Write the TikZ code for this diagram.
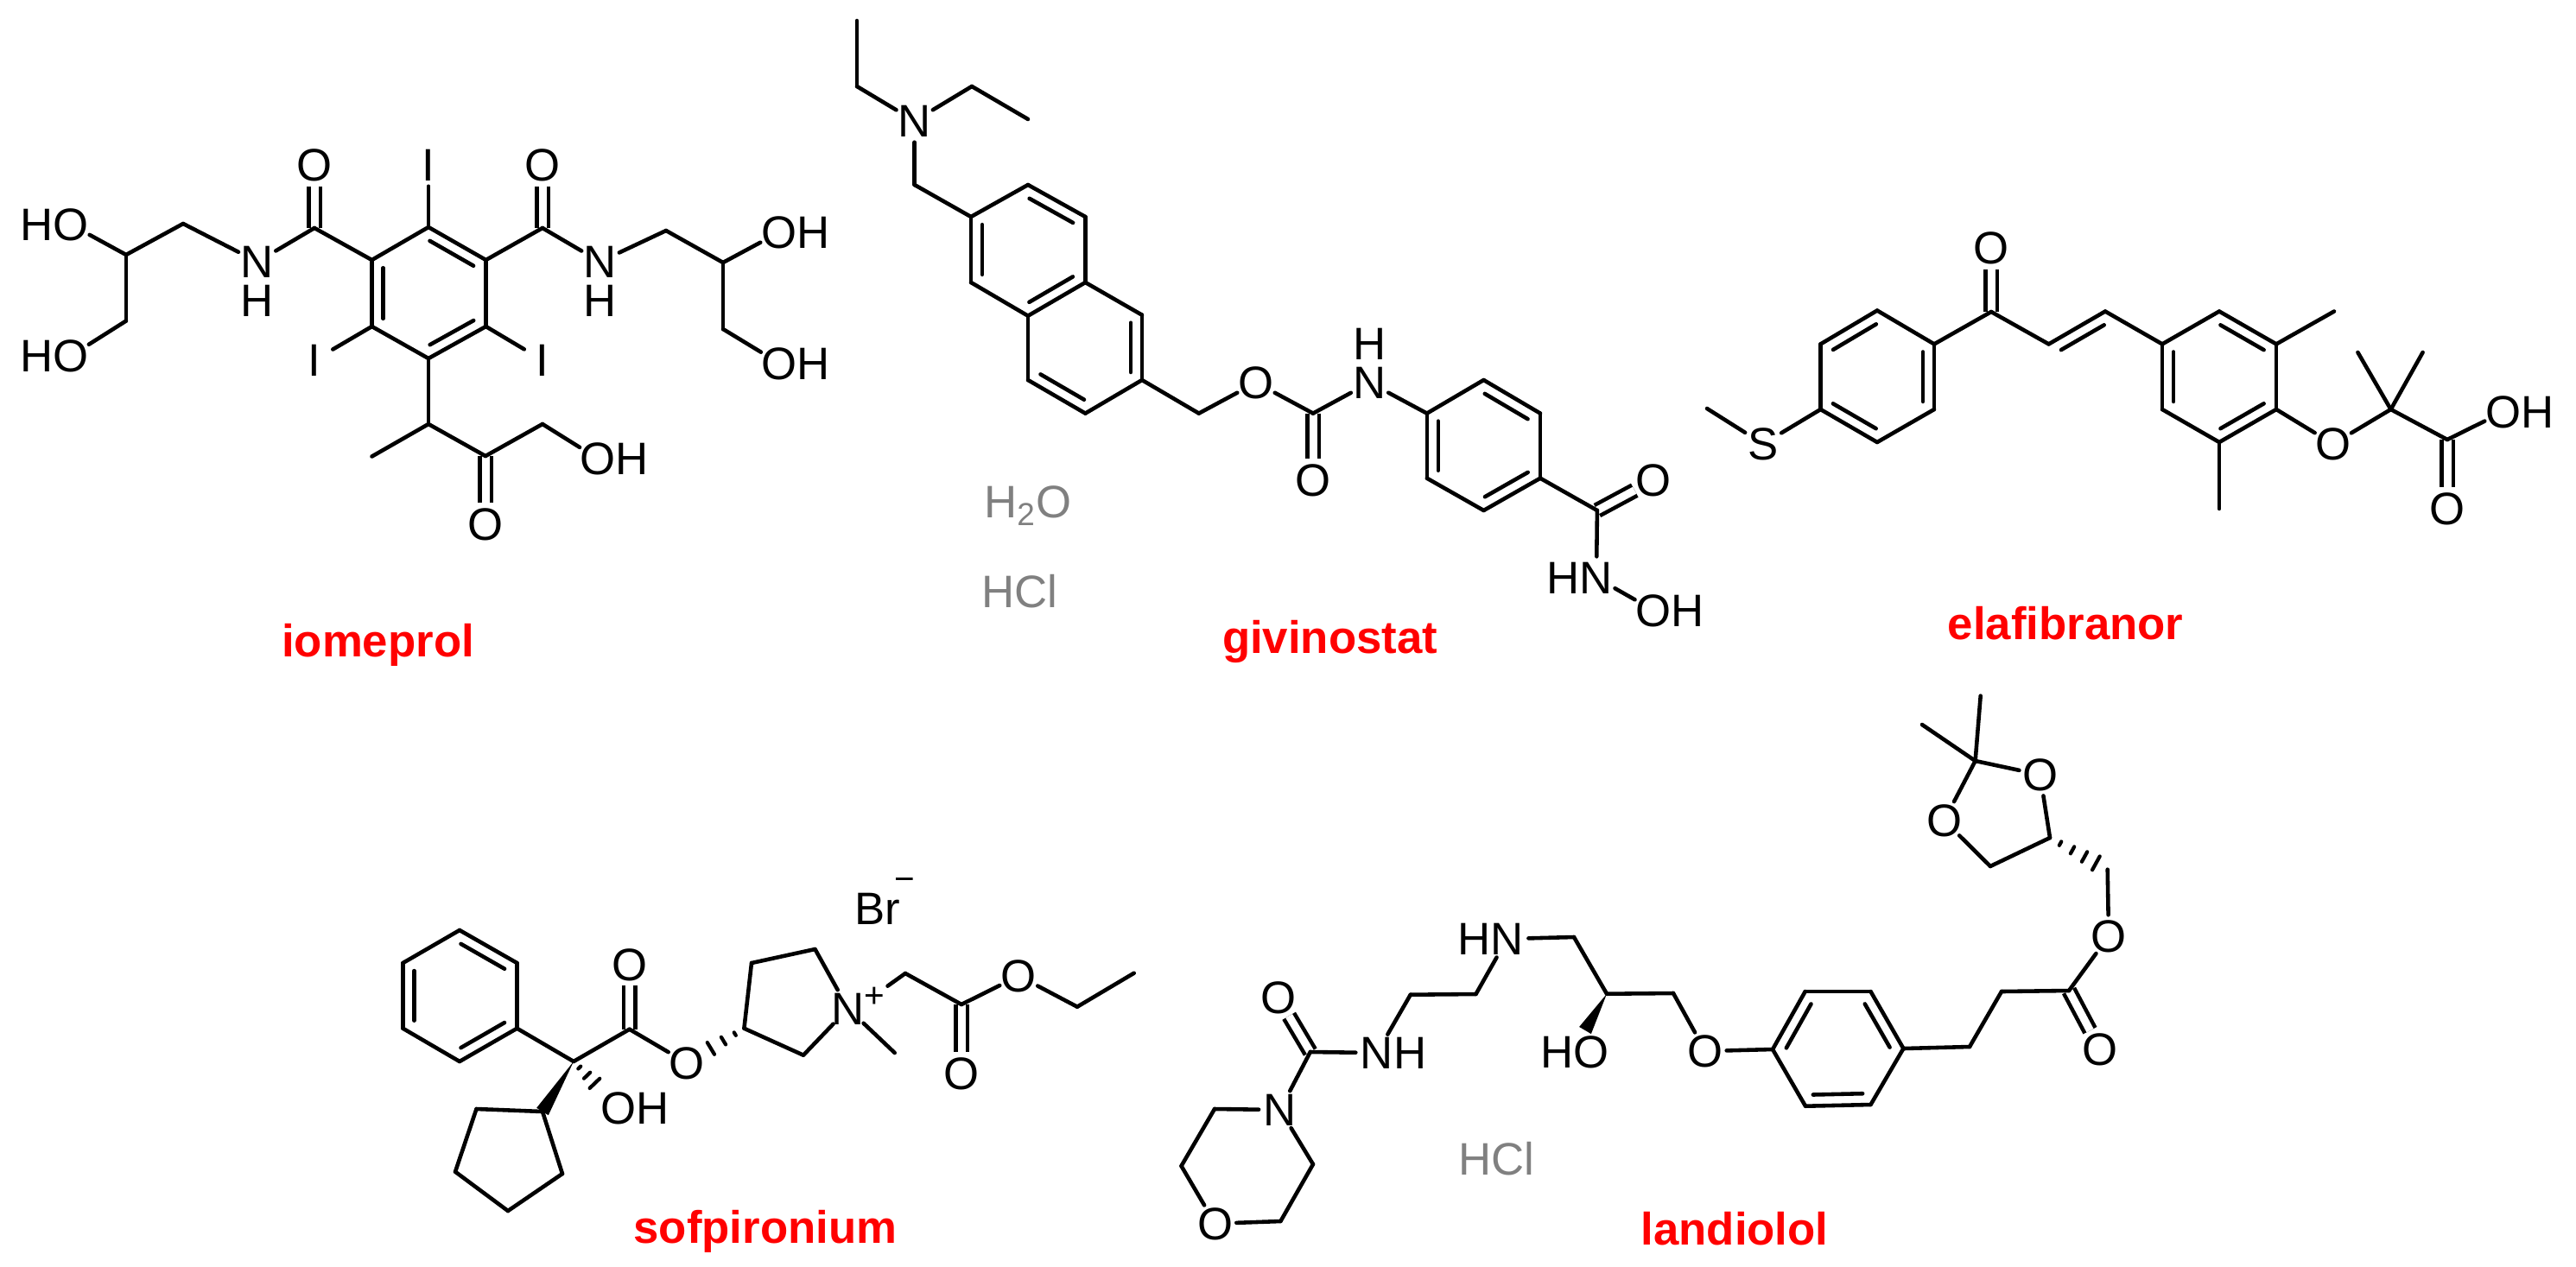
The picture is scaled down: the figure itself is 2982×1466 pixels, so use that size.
\documentclass[tikz,border=0pt]{standalone}
\usepackage{fontspec}
\setmainfont{Liberation Sans}
\usetikzlibrary{calc}
\newcommand{\hashbond}[3]{\foreach \t/\w in {#3}
  {\draw[line width=1.2pt,line cap=round] ($(#1)!\t!(#2)!\w!90:(#2)$) -- ($(#1)!\t!(#2)!\w!-90:(#2)$);}}

\begin{document}
\begin{tikzpicture}[x=0.01cm,y=-0.01cm,
    every edge/.style={draw,line width=1.3pt,line cap=round},
    atom/.style={circle,inner sep=-1pt,minimum size=4.8mm,text height=10.7pt,text depth=0pt,font=\fontsize{15}{18}\selectfont},
    charge/.style={circle,inner sep=0pt,minimum size=2mm,text height=8pt,text depth=0pt,font=\fontsize{11.5}{14}\selectfont},
    salt/.style={anchor=center,text=gray,text height=10.7pt,text depth=0pt,inner sep=0pt,font=\fontsize{15}{18}\selectfont},
    drug/.style={anchor=base,text=red,inner sep=0pt,font=\fontsize{15}{18}\selectfont\bfseries},
    dbl/.style={double,double distance=0.9mm,line cap=butt},
    inring/.style={to path={($(\tikztostart)!.12!(\tikztotarget)!.13cm!90:(\tikztotarget)$) -- ($(\tikztotarget)!.12!(\tikztostart)!.13cm!-90:(\tikztostart)$)}}]
  \useasboundingbox (0,0) rectangle (2982,1466);

  % iomeprol
  \coordinate (i1) at (496,263);
  \coordinate (i2) at (430.5,301);
  \coordinate (i3) at (430.5,378);
  \coordinate (i4) at (496,415);
  \coordinate (i5) at (562.5,378);
  \coordinate (i6) at (562.5,301);
  \coordinate (ic1) at (364,264);
  \coordinate (ic2) at (628,264);
  \coordinate (ic3) at (212,259);
  \coordinate (ic4) at (146,295);
  \coordinate (ic5) at (146,371.5);
  \coordinate (ic6) at (771,267);
  \coordinate (ic7) at (837,304);
  \coordinate (ic8) at (837,381);
  \coordinate (ic9) at (496,491);
  \coordinate (ic10) at (430.5,528.5);
  \coordinate (ic11) at (562,528);
  \coordinate (ic12) at (628,491);
  \node[atom] (io1) at (364,191) {O};
  \node[atom] (io2) at (628,191) {O};
  \node[atom] (io3) at (562,606.5) {O};
  \node[atom] (ii1) at (496,191) {I};
  \node[atom] (ii2) at (364,417) {I};
  \node[atom] (ii3) at (628,417) {I};
  \node[atom] (in1) at (298,303) {N};
  \node[atom] (ih1) at (298,348) {H};
  \node[atom] (in2) at (694.5,303) {N};
  \node[atom] (ih2) at (694.5,348) {H};
  \node[atom] (ioh1) at (82,260) {\llap{H}O};
  \node[atom] (ioh2) at (82,412) {\llap{H}O};
  \node[atom] (ioh3) at (902,269) {O\rlap{H}};
  \node[atom] (ioh4) at (902,420.5) {O\rlap{H}};
  \node[atom] (ioh5) at (692,531) {O\rlap{H}};
  \path
  (ic1) edge[dbl] (io1)
  (ic2) edge[dbl] (io2)
  (ic11) edge[dbl] (io3)
  (i1) edge (i2)
  (i2) edge (i3)
  (i3) edge (i4)
  (i4) edge (i5)
  (i5) edge (i6)
  (i6) edge (i1)
  (i2) edge[inring] (i3)
  (i4) edge[inring] (i5)
  (i6) edge[inring] (i1)
  (i1) edge (ii1)
  (i3) edge (ii2)
  (i5) edge (ii3)
  (i2) edge (ic1)
  (i6) edge (ic2)
  (ic1) edge (in1)
  (ic2) edge (in2)
  (in1) edge (ic3)
  (ic3) edge (ic4)
  (ic4) edge (ioh1)
  (ic4) edge (ic5)
  (ic5) edge (ioh2)
  (in2) edge (ic6)
  (ic6) edge (ic7)
  (ic7) edge (ioh3)
  (ic7) edge (ic8)
  (ic8) edge (ioh4)
  (i4) edge (ic9)
  (ic9) edge (ic10)
  (ic9) edge (ic11)
  (ic11) edge (ic12)
  (ic12) edge (ioh5);
  \node[drug] (iname) at (437.5,760) {iomeprol};

  % givinostat
  \coordinate (g1) at (1190,214);
  \coordinate (g2) at (1124,251);
  \coordinate (g3) at (1124,327);
  \coordinate (g4) at (1190,365.7);
  \coordinate (g5) at (1256.4,327);
  \coordinate (g6) at (1256.4,251);
  \coordinate (g7) at (1190,440);
  \coordinate (g8) at (1256.4,478.6);
  \coordinate (g9) at (1322,440);
  \coordinate (g10) at (1322,364.7);
  \coordinate (g11) at (1717.5,440);
  \coordinate (g12) at (1651.8,478.6);
  \coordinate (g13) at (1651.8,553.7);
  \coordinate (g14) at (1717.5,591);
  \coordinate (g15) at (1783,553.7);
  \coordinate (g16) at (1783,478.6);
  \coordinate (gc1) at (992,24);
  \coordinate (gc2) at (992,100);
  \coordinate (gc3) at (1125,100);
  \coordinate (gc4) at (1190,138);
  \coordinate (gc5) at (1058.7,214);
  \coordinate (gc6) at (1387.8,478.6);
  \coordinate (gc7) at (1520,478.6);
  \coordinate (gc8) at (1848.9,591);
  \node[atom] (gn1) at (1058.7,140) {N};
  \node[atom] (go1) at (1454,443) {O};
  \node[atom] (go2) at (1520,556) {O};
  \node[atom] (gn2) at (1585.5,443) {N};
  \node[atom] (gh1) at (1585.5,398) {H};
  \node[atom] (go3) at (1914,556) {O};
  \node[atom] (gn3) at (1848,669) {\llap{H}N};
  \node[atom] (goh) at (1914,706.5) {O\rlap{H}};
  \path
  (gc7) edge[dbl] (go2)
  (gc8) edge[dbl] (go3)
  (gc1) edge (gc2)
  (gc2) edge (gn1)
  (gn1) edge (gc3)
  (gc3) edge (gc4)
  (gn1) edge (gc5)
  (gc5) edge (g2)
  (g1) edge (g2)
  (g2) edge (g3)
  (g3) edge (g4)
  (g4) edge (g5)
  (g5) edge (g6)
  (g6) edge (g1)
  (g2) edge[inring] (g3)
  (g4) edge[inring] (g5)
  (g6) edge[inring] (g1)
  (g4) edge (g7)
  (g7) edge (g8)
  (g8) edge (g9)
  (g9) edge (g10)
  (g10) edge (g5)
  (g7) edge[inring] (g8)
  (g9) edge[inring] (g10)
  (g9) edge (gc6)
  (gc6) edge (go1)
  (go1) edge (gc7)
  (gc7) edge (gn2)
  (gn2) edge (g12)
  (g11) edge (g12)
  (g12) edge (g13)
  (g13) edge (g14)
  (g14) edge (g15)
  (g15) edge (g16)
  (g16) edge (g11)
  (g12) edge[inring] (g13)
  (g14) edge[inring] (g15)
  (g16) edge[inring] (g11)
  (g15) edge (gc8)
  (gc8) edge (gn3)
  (gn3) edge (goh);
  \node[salt] (gwater) at (1190,581) {H\textsubscript{2}O};
  \node[salt] (ghcl) at (1180,685) {HCl};
  \node[drug] (gname) at (1539.6,756) {givinostat};

  % elafibranor
  \coordinate (e1) at (2173,359.5);
  \coordinate (e2) at (2107.5,398.4);
  \coordinate (e3) at (2107.5,474);
  \coordinate (e4) at (2173,512);
  \coordinate (e5) at (2239,474);
  \coordinate (e6) at (2239,398.4);
  \coordinate (e7) at (2569,360.5);
  \coordinate (e8) at (2503,398.4);
  \coordinate (e9) at (2503,474);
  \coordinate (e10) at (2569,512);
  \coordinate (e11) at (2635,474);
  \coordinate (e12) at (2635,398.4);
  \coordinate (ec1) at (1976,473);
  \coordinate (ec2) at (2305,361);
  \coordinate (ec3) at (2371.6,398.4);
  \coordinate (ec4) at (2437,360.5);
  \coordinate (ec5) at (2702,360.5);
  \coordinate (ec6) at (2569,589);
  \coordinate (ec7) at (2767.6,474);
  \coordinate (ec8) at (2729.4,408);
  \coordinate (ec9) at (2804.6,408);
  \coordinate (ec10) at (2833,509);
  \node[atom] (es) at (2041,514) {S};
  \node[atom] (eo1) at (2305,287) {O};
  \node[atom] (eo2) at (2700.7,514) {O};
  \node[atom] (eo3) at (2833,589) {O};
  \node[atom] (eoh) at (2898.4,476.6) {O\rlap{H}};
  \path
  (ec2) edge[dbl] (eo1)
  (ec10) edge[dbl] (eo3)
  (ec1) edge (es)
  (es) edge (e3)
  (e1) edge (e2)
  (e2) edge (e3)
  (e3) edge (e4)
  (e4) edge (e5)
  (e5) edge (e6)
  (e6) edge (e1)
  (e1) edge[inring] (e2)
  (e3) edge[inring] (e4)
  (e5) edge[inring] (e6)
  (e6) edge (ec2)
  (ec2) edge (ec3)
  (ec3) edge (ec4)
  (ec4) edge[inring] (ec3)
  (ec4) edge (e8)
  (e7) edge (e8)
  (e8) edge (e9)
  (e9) edge (e10)
  (e10) edge (e11)
  (e11) edge (e12)
  (e12) edge (e7)
  (e8) edge[inring] (e9)
  (e10) edge[inring] (e11)
  (e12) edge[inring] (e7)
  (e12) edge (ec5)
  (e10) edge (ec6)
  (e11) edge (eo2)
  (eo2) edge (ec7)
  (ec7) edge (ec8)
  (ec7) edge (ec9)
  (ec7) edge (ec10)
  (ec10) edge (eoh);
  \node[drug] (ename) at (2391,740) {elafibranor};

  % sofpironium
  \coordinate (s1) at (532,1077);
  \coordinate (s2) at (466.4,1115);
  \coordinate (s3) at (466.4,1190.7);
  \coordinate (s4) at (532,1229);
  \coordinate (s5) at (598.5,1190.7);
  \coordinate (s6) at (598.5,1115);
  \coordinate (sc1) at (664,1229);
  \coordinate (sc2) at (728.7,1191.7);
  \coordinate (sc3) at (861.4,1190.7);
  \coordinate (sc4) at (870,1115);
  \coordinate (sc5) at (943.5,1099);
  \coordinate (sc6) at (930,1221.7);
  \coordinate (sc7) at (1035.7,1219);
  \coordinate (sc8) at (1048,1127);
  \coordinate (sc9) at (1113,1163);
  \coordinate (sc10) at (1247,1165.7);
  \coordinate (sc11) at (1312.7,1126.7);
  \coordinate (sp1) at (628,1287);
  \coordinate (sp2) at (551.5,1284);
  \coordinate (sp3) at (527,1356.7);
  \coordinate (sp4) at (588,1402);
  \coordinate (sp5) at (651,1359);
  \node[atom] (so1) at (728.7,1116.7) {O};
  \node[atom] (so2) at (795,1230.7) {O};
  \node[atom] (sn) at (981.7,1167.7) {N};
  \node[charge] (splus) at (1012,1152.7) {+};
  \node[atom] (so3) at (1113,1242.7) {O};
  \node[atom] (so4) at (1179.4,1130) {O};
  \node[atom] (soh) at (716,1283) {O\rlap{H}};
  \node[atom] (sbr) at (1015.7,1052) {Br};
  \node[charge] (sminus) at (1047.4,1017) {−};
  \path
  (sc2) edge[dbl] (so1)
  (sc9) edge[dbl] (so3)
  (s1) edge (s2)
  (s2) edge (s3)
  (s3) edge (s4)
  (s4) edge (s5)
  (s5) edge (s6)
  (s6) edge (s1)
  (s2) edge[inring] (s3)
  (s4) edge[inring] (s5)
  (s6) edge[inring] (s1)
  (s5) edge (sc1)
  (sc1) edge (sc2)
  (sc2) edge (so2)
  (sc3) edge (sc4)
  (sc4) edge (sc5)
  (sc5) edge (sn)
  (sn) edge (sc6)
  (sc6) edge (sc3)
  (sn) edge (sc7)
  (splus) edge (sc8)
  (sc8) edge (sc9)
  (sc9) edge (so4)
  (so4) edge (sc10)
  (sc10) edge (sc11)
  (sp1) edge (sp2)
  (sp2) edge (sp3)
  (sp3) edge (sp4)
  (sp4) edge (sp5)
  (sp5) edge (sp1);
  \fill (sc1) -- ($(sp1)!.08cm!90:(sc1)$) -- ($(sp1)!.08cm!-90:(sc1)$) -- cycle;
  \hashbond{sc1}{soh}{.13/.02cm,.3/.05cm,.47/.08cm}
  \hashbond{sc3}{so2}{.16/.02cm,.36/.05cm,.58/.08cm}
  \node[drug] (sname) at (886,1439) {sofpironium};

  % landiolol
  \coordinate (l1) at (2052,1215);
  \coordinate (l2) at (2090,1280.7);
  \coordinate (l3) at (2165.5,1279);
  \coordinate (l4) at (2203.4,1214);
  \coordinate (l5) at (2165.5,1148);
  \coordinate (l6) at (2089.7,1148);
  \coordinate (lc1) at (1406,1284);
  \coordinate (lc2) at (1367.5,1350);
  \coordinate (lc3) at (1482.4,1414);
  \coordinate (lc4) at (1520,1348);
  \coordinate (lc5) at (1516.8,1218);
  \coordinate (lc6) at (1632.8,1151.7);
  \coordinate (lc7) at (1708.5,1151);
  \coordinate (lc8) at (1822,1085);
  \coordinate (lc9) at (1860,1150.7);
  \coordinate (lc10) at (1937,1150);
  \coordinate (lw) at (1835,1193);
  \coordinate (lc11) at (2280,1212);
  \coordinate (lc12) at (2317,1148);
  \coordinate (lc13) at (2395,1147);
  \coordinate (lc14) at (2439.7,1006.7);
  \coordinate (lc15) at (2373,970);
  \coordinate (lc16) at (2304,1003);
  \coordinate (lc17) at (2286.6,881);
  \coordinate (lc18) at (2292.7,805.7);
  \coordinate (lc19) at (2225,839);
  \node[atom] (ln1) at (1481.8,1285) {N};
  \node[atom] (lo1) at (1406.6,1416.7) {O};
  \node[atom] (lo2) at (1479.5,1155) {O};
  \node[atom] (ln2) at (1594,1219) {N\rlap{H}};
  \node[atom] (ln3) at (1744.7,1087) {\llap{H}N};
  \node[atom] (loh) at (1842,1218) {\llap{H}O};
  \node[atom] (lo3) at (1974,1217) {O};
  \node[atom] (lo4) at (2431,1215) {O};
  \node[atom] (lo5) at (2441,1084) {O};
  \node[atom] (lo6) at (2250.6,950) {O};
  \node[atom] (lo7) at (2361.6,897) {O};
  \path
  (lc5) edge[dbl] (lo2)
  (lc13) edge[dbl] (lo4)
  (ln1) edge (lc1)
  (lc1) edge (lc2)
  (lc2) edge (lo1)
  (lo1) edge (lc3)
  (lc3) edge (lc4)
  (lc4) edge (ln1)
  (ln1) edge (lc5)
  (lc5) edge (ln2)
  (ln2) edge (lc6)
  (lc6) edge (lc7)
  (lc7) edge (ln3)
  (ln3) edge (lc8)
  (lc8) edge (lc9)
  (lc9) edge (lc10)
  (lc10) edge (lo3)
  (lo3) edge (l1)
  (l1) edge (l2)
  (l2) edge (l3)
  (l3) edge (l4)
  (l4) edge (l5)
  (l5) edge (l6)
  (l6) edge (l1)
  (l2) edge[inring] (l3)
  (l4) edge[inring] (l5)
  (l6) edge[inring] (l1)
  (l4) edge (lc11)
  (lc11) edge (lc12)
  (lc12) edge (lc13)
  (lc13) edge (lo5)
  (lo5) edge (lc14)
  (lc15) edge (lc16)
  (lc16) edge (lo6)
  (lo6) edge (lc17)
  (lc17) edge (lo7)
  (lo7) edge (lc15)
  (lc17) edge (lc18)
  (lc17) edge (lc19);
  \fill (lc9) -- ($(lw)!.08cm!90:(lc9)$) -- ($(lw)!.08cm!-90:(lc9)$) -- cycle;
  \hashbond{lc15}{lc14}{.18/.025cm,.39/.045cm,.6/.065cm,.8/.09cm}
  \node[salt] (lhcl) at (1732,1342) {HCl};
  \node[drug] (lname) at (2008,1441) {landiolol};
\end{tikzpicture}
\end{document}
